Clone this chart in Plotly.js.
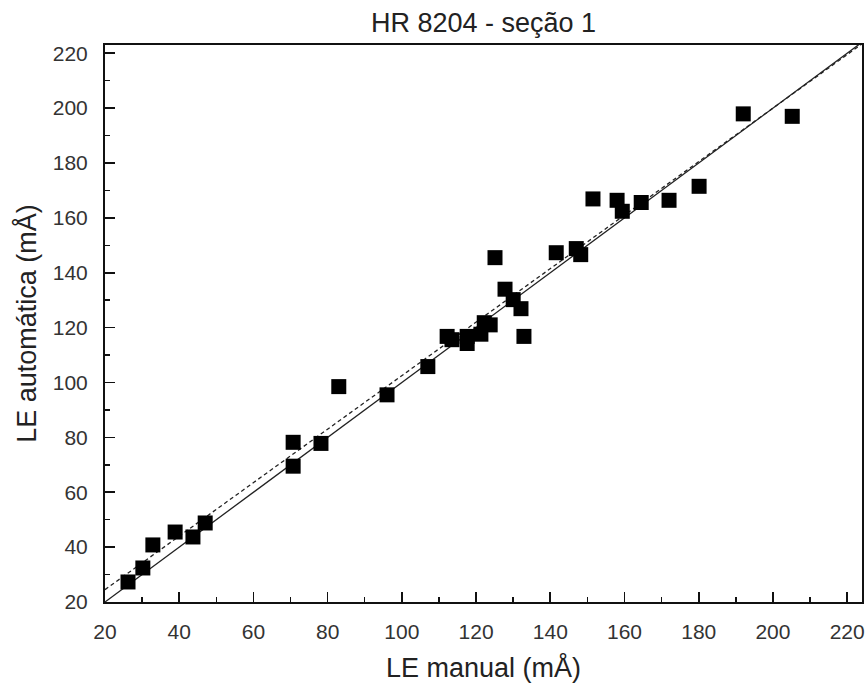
<!DOCTYPE html>
<html>
<head>
<meta charset="utf-8">
<script src="https://cdn.plot.ly/plotly-3.0.1.min.js"></script>
<style>html,body{margin:0;padding:0;background:#fff;}#chart{width:868px;height:692px;}</style>
</head>
<body>
<div id="chart"></div>
<script>
// LE manual (mÅ)
const manualLE = [26.2, 30.2, 32.9, 38.9, 43.7, 47.0, 70.7, 70.7, 78.2, 83.0,
  96.0, 107.0, 112.2, 113.5, 117.6, 117.6, 121.3, 122.2, 123.8, 125.1,
  127.8, 130.0, 132.1, 132.9, 141.6, 147.0, 148.2, 151.5, 158.0, 159.4,
  164.5, 172.0, 180.1, 192.0, 205.2];
// LE automática (mÅ)
const autoLE = [27.3, 32.4, 40.8, 45.5, 43.7, 48.8, 69.5, 78.2, 77.8, 98.5,
  95.5, 105.8, 116.8, 115.6, 114.2, 116.8, 117.6, 121.8, 121.0, 145.5,
  134.0, 130.2, 126.9, 116.8, 147.3, 148.8, 146.6, 166.9, 166.4, 162.4,
  165.6, 166.4, 171.5, 197.9, 197.0];

const xRange = [20, 224];
const yRange = [20, 223];
const lineX = [20, 224];
const fitSlope = 0.975;
const fitIntercept = 5.0;

const identityY = lineX.map(v => v);
const fitY = lineX.map(v => fitIntercept + fitSlope * v);

const fontFam = '"Liberation Sans", Arial, Helvetica, sans-serif';

const traces = [
  {x: lineX, y: identityY, mode: 'lines', type: 'scatter',
   line: {color: '#222', width: 1.3}, hoverinfo: 'skip', showlegend: false},
  {x: lineX, y: fitY, mode: 'lines', type: 'scatter',
   line: {color: '#222', width: 1.3, dash: '4px,3px'}, hoverinfo: 'skip', showlegend: false},
  {x: manualLE, y: autoLE, mode: 'markers', type: 'scatter',
   marker: {symbol: 'square', size: 15, color: '#000'}, showlegend: false}
];

const axisCommon = {
  showgrid: false, zeroline: false, showline: true, mirror: true,
  linecolor: '#111', linewidth: 2,
  ticks: 'inside', ticklen: 10, tickwidth: 1.6, tickcolor: '#111',
  dtick: 20, tick0: 20,
  minor: {dtick: 10, tick0: 20, ticks: 'inside', ticklen: 5, tickwidth: 1.4, tickcolor: '#111'},
  tickfont: {family: fontFam, size: 21, color: '#333'}
};

const layout = {
  width: 868, height: 692,
  margin: {l: 105, r: 6, t: 45, b: 90},
  paper_bgcolor: '#fff', plot_bgcolor: '#fff',
  title: {text: 'HR 8204 - seção 1', font: {family: fontFam, size: 27, color: '#222'},
          xref: 'paper', x: 0.5, xanchor: 'center', yref: 'container', y: 0.968, yanchor: 'middle'},
  xaxis: Object.assign({}, axisCommon, {
    range: xRange, ticklabelstandoff: 10,
    title: {text: 'LE manual (mÅ)', font: {family: fontFam, size: 27, color: '#222'}, standoff: 16}
  }),
  yaxis: Object.assign({}, axisCommon, {
    range: yRange, ticklabelstandoff: 11,
    title: {text: 'LE automática (mÅ)', font: {family: fontFam, size: 27, color: '#222'}, standoff: 8}
  })
};

Plotly.newPlot('chart', traces, layout, {displayModeBar: false, staticPlot: true});
</script>
</body>
</html>
